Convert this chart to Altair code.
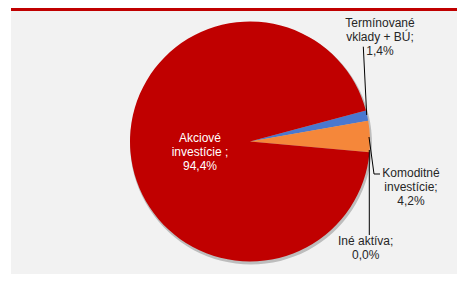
import math
import altair as alt
import pandas as pd

# ---- data ----
categories = ["Termínované vklady + BÚ", "Komoditné investície", "Iné aktíva", "Akciové investície"]
shares = [1.4, 4.2, 0.0, 94.4]
label_lines = [["Termínované", "vklady + BÚ;"], ["Komoditné", "investície;"], ["Iné aktíva;"], ["Akciové", "investície ;"]]
colors = ["#4A78CF", "#F5873A", "#A5A5A5", "#C00000"]


def pct(v):
    return f"{v:.1f}".replace(".", ",") + "%"


df = pd.DataFrame({
    "category": categories,
    "share": shares,
    "order": list(range(len(categories))),
    "label": ["\n".join(l + [pct(v)]) for l, v in zip(label_lines, shares)],
})

W, H = 449, 266
CX, CY, R = 242, 133.5, 120
start = math.radians(75)
FONT = "Liberation Sans"

base = alt.Chart(df)
one = base.transform_filter("datum.order == 0")

bg = one.mark_rect(color="#F2F2F2").encode(
    x=alt.value(3), x2=alt.value(W), y=alt.value(0), y2=alt.value(H))
top_bar = one.mark_rect(color="#C00000").encode(
    x=alt.value(3), x2=alt.value(W), y=alt.value(0), y2=alt.value(3))

theta = alt.Theta("share:Q", stack=True,
                  scale=alt.Scale(range=[start, start + 2 * math.pi]))

shadow = base.mark_arc(outerRadius=R + 1, color="#000000", opacity=0.22).encode(
    theta=theta, order=alt.Order("order:Q"),
    x=alt.value(CX + 1), y=alt.value(CY + 2))

pie = base.mark_arc(outerRadius=R).encode(
    theta=theta,
    color=alt.Color("category:N", scale=alt.Scale(domain=categories, range=colors), legend=None),
    order=alt.Order("order:Q"),
    x=alt.value(CX), y=alt.value(CY))


def rule(x1, y1, x2, y2):
    return one.mark_rule(color="#000000", strokeWidth=1).encode(
        x=alt.value(x1), y=alt.value(y1), x2=alt.value(x2), y2=alt.value(y2))


rules = [
    rule(355.3, 38.7, 358.7, 107),
    rule(361, 129, 366, 166),
    rule(366, 166, 372, 166),
    rule(361.3, 142, 361.3, 227),
]

label_pos = {
    0: (372, 19.3, "#262626"),
    1: (403, 168.7, "#262626"),
    2: (357.7, 237, "#262626"),
    3: (192, 133.7, "#FFFFFF"),
}

texts = []
for i, (x, y, c) in label_pos.items():
    texts.append(
        base.transform_filter(f"datum.order == {i}").mark_text(
            align="center", baseline="alphabetic", lineBreak="\n", lineHeight=14,
            fontSize=12, font=FONT, color=c
        ).encode(text="label:N", x=alt.value(x), y=alt.value(y))
    )

chart = alt.layer(bg, top_bar, shadow, pie, *rules, *texts).properties(
    width=W, height=H,
    autosize=alt.AutoSizeParams(type="none"),
    padding=0,
    background="#FFFFFF",
).configure_view(stroke=None)

chart.save("out.html", embed_options={"renderer": "svg", "actions": False})
